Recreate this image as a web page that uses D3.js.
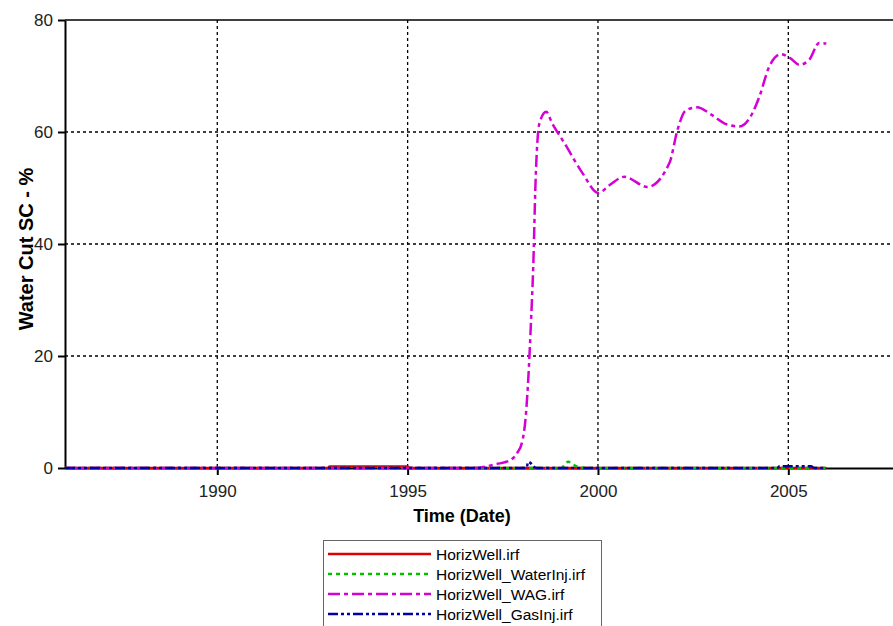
<!DOCTYPE html>
<html>
<head>
<meta charset="utf-8">
<script src="https://cdn.jsdelivr.net/npm/d3@7"></script>
<style>
  body { margin: 0; background: #fff; }
  svg { display: block; font-family: Arial, "Liberation Sans", sans-serif; }
</style>
</head>
<body>
<div class="wcchart"></div>
<script>
// data (decimal year, water cut %)
var seriesNames = ["HorizWell.irf", "HorizWell_WaterInj.irf", "HorizWell_WAG.irf", "HorizWell_GasInj.irf"];

var horizWell = [[1986.0,0],[1992.9,0],[1992.95,0.25],[1995.0,0.25],[1995.05,0],[2006.0,0]];

var waterInj = [[1986.0,0],[1999.05,0],[1999.12,0.6],[1999.22,1.1],[1999.35,0.6],[1999.55,0.1],[1999.7,0],[2006.0,0]];

var wag = [[1986.0,0],[1996.75,0],[1997.33,0.7],[1997.67,1.3],[1997.88,2.7],[1998.01,4.7],
  [1998.1,9],[1998.17,16],[1998.24,26],[1998.30,36],[1998.36,51],[1998.46,61.5],[1998.64,63.6],
  [1998.8,61.5],[1999.12,58],[1999.59,52.7],[2000.01,49.1],[2000.3,50.5],[2000.69,52],[2001.3,50.2],
  [2001.88,54.5],[2002.09,60.4],[2002.3,63.8],[2002.6,64.4],[2003.0,63.0],[2003.37,61.4],[2003.72,61],
  [2004.06,63.4],[2004.24,66.3],[2004.5,71.7],[2004.81,73.9],[2005.05,73.2],[2005.29,72],[2005.55,72.9],
  [2005.81,75.9],[2006.0,75.8]];

var gasInj = [[1986.0,0],[1998.12,0],[1998.17,1.1],[1998.24,0.8],[1998.3,0.3],[1998.4,0],[2004.7,0],
  [2004.78,0.3],[2005.6,0.3],[2005.68,0],[2006.0,0]];

var xTicks = [1990, 1995, 2000, 2005];
var yTicks = [0, 20, 40, 60, 80];

var width = 893,
    height = 626,
    plotLeft = 65, plotRight = 893, plotTop = 20, plotBottom = 468;

var colors = ["#dd0000", "#00c000", "#d400d4", "#0000a8"],
    dashes = [null, "4,4", "12,4,4,4", "10,3,3,3,3,3"];

var x = d3.scaleLinear()
    .domain([1986.0, 2007.75])
    .range([plotLeft, plotRight]);

var y = d3.scaleLinear()
    .domain([0, 80])
    .range([plotBottom, plotTop]);

var svg = d3.select(".wcchart")
    .append("svg")
    .attr("width", width)
    .attr("height", height);

// grid
svg.append("g")
    .selectAll("line")
    .data(xTicks)
    .enter()
    .append("line")
    .attr("x1", function(d){ return x(d); })
    .attr("x2", function(d){ return x(d); })
    .attr("y1", plotTop)
    .attr("y2", plotBottom)
    .attr("stroke", "#000")
    .attr("stroke-width", 1.3)
    .attr("stroke-dasharray", "3,3");

svg.append("g")
    .selectAll("line")
    .data([20, 40, 60])
    .enter()
    .append("line")
    .attr("x1", plotLeft)
    .attr("x2", plotRight)
    .attr("y1", function(d){ return y(d); })
    .attr("y2", function(d){ return y(d); })
    .attr("stroke", "#000")
    .attr("stroke-width", 1.3)
    .attr("stroke-dasharray", "3,3");

// top border
svg.append("line")
    .attr("x1", plotLeft).attr("x2", plotRight)
    .attr("y1", plotTop).attr("y2", plotTop)
    .attr("stroke", "#000")
    .attr("stroke-width", 1.5);

// axes
var xAxis = svg.append("g")
    .attr("transform", "translate(0," + plotBottom + ")")
    .call(d3.axisBottom(x).tickValues(xTicks).tickFormat(d3.format("d")).tickSize(7).tickPadding(10).tickSizeOuter(0));

var yAxis = svg.append("g")
    .attr("transform", "translate(" + plotLeft + ",0)")
    .call(d3.axisLeft(y).tickValues(yTicks).tickSize(7).tickPadding(5).tickSizeOuter(0));

[xAxis, yAxis].forEach(function(a){
  a.select(".domain").attr("stroke", "#000").attr("stroke-width", 2);
  a.selectAll(".tick line").attr("stroke", "#000").attr("stroke-width", 2);
  a.selectAll(".tick text")
      .attr("fill", "#222")
      .style("font-size", "17px")
      .style("font-family", "Arial, 'Liberation Sans', sans-serif");
});

// series
var line = d3.line()
    .x(function(d){ return x(d[0]); })
    .y(function(d){ return y(d[1]); })
    .curve(d3.curveMonotoneX);

var allSeries = [horizWell, waterInj, wag, gasInj];

svg.append("g")
    .selectAll("path")
    .data(allSeries)
    .enter()
    .append("path")
    .attr("d", line)
    .attr("fill", "none")
    .attr("stroke", function(d,i){ return colors[i]; })
    .attr("stroke-width", 2.5)
    .attr("stroke-dasharray", function(d,i){ return dashes[i]; });

// axis titles
svg.append("text")
    .attr("x", 462)
    .attr("y", 522)
    .attr("text-anchor", "middle")
    .style("font-size", "18px")
    .style("font-weight", "bold")
    .text("Time (Date)");

svg.append("text")
    .attr("transform", "translate(33,249) rotate(-90)")
    .attr("text-anchor", "middle")
    .style("font-size", "20px")
    .style("font-weight", "bold")
    .text("Water Cut SC - %");

// legend
var legend = svg.append("g")
    .attr("transform", "translate(323,540)");

legend.append("rect")
    .attr("x", 0.5)
    .attr("y", 0.5)
    .attr("width", 278)
    .attr("height", 100)
    .attr("fill", "#fff")
    .attr("stroke", "#666")
    .attr("stroke-width", 1);

var rows = legend.selectAll(".row")
    .data(seriesNames)
    .enter()
    .append("g")
    .attr("class", "row")
    .attr("transform", function(d,i){ return "translate(0," + (14 + i*20) + ")"; });

rows.append("line")
    .attr("x1", 5)
    .attr("x2", 108)
    .attr("stroke", function(d,i){ return colors[i]; })
    .attr("stroke-width", 2.5)
    .attr("stroke-dasharray", function(d,i){ return dashes[i]; });

rows.append("text")
    .attr("x", 113)
    .attr("y", 5.5)
    .style("font-size", "15.5px")
    .attr("fill", "#000")
    .text(function(d){ return d; });
</script>
</body>
</html>
